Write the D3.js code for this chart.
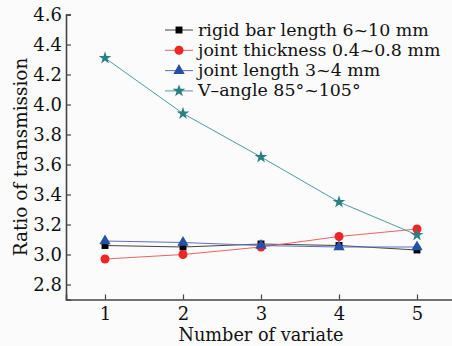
<!DOCTYPE html>
<html>
<head>
<meta charset="utf-8">
<script src="https://cdn.jsdelivr.net/npm/d3@7"></script>
<style>
  html, body { margin: 0; padding: 0; background: #fbfbfb; }
  svg { display: block; }
</style>
</head>
<body>
<svg id="chart" width="452" height="346"></svg>
<script>
// data
var variates = [1, 2, 3, 4, 5];
var rigidBar = [3.06, 3.05, 3.07, 3.06, 3.03];
var jointThickness = [2.97, 3.00, 3.05, 3.12, 3.17];
var jointLength = [3.09, 3.08, 3.06, 3.05, 3.05];
var vAngle = [4.31, 3.94, 3.65, 3.35, 3.13];
var seriesNames = ['rigid bar length 6~10 mm', 'joint thickness 0.4~0.8 mm', 'joint length 3~4 mm', 'V\u2013angle 85\u00b0~105\u00b0'];
var yTicks = [2.8, 3.0, 3.2, 3.4, 3.6, 3.8, 4.0, 4.2, 4.4, 4.6];
var xTicks = [1, 2, 3, 4, 5];

var FONT = '"DejaVu Serif", serif';

var series = [
	{name: seriesNames[0], values: rigidBar, line: '#444', fill: '#000', sym: d3.symbolSquare, size: 48},
	{name: seriesNames[1], values: jointThickness, line: '#f06060', fill: '#ee2626', sym: d3.symbolCircle, size: 64},
	{name: seriesNames[2], values: jointLength, line: '#5a70c0', fill: '#2450a8', sym: d3.symbolTriangle, size: 56},
	{name: seriesNames[3], values: vAngle, line: '#4f9c9c', fill: '#2a7f80', sym: d3.symbolStar, size: 50}
];

var svg = d3.select('#chart');
var margin = {left: 66};
var x = d3.scaleLinear().domain([0.5, 5.5]).range([margin.left, margin.left + 390]);
var y = d3.scaleLinear().domain([2.7, 4.6]).range([299.5, 14.5]);

// minor ticks, pointing inward like the original
var yMinor = d3.range(2.7, 4.61, 0.1).map(function(v){ return +v.toFixed(1); });
var xMinor = [1.5, 2.5, 3.5, 4.5];

var gx = svg.append('g').attr('transform', 'translate(0,' + y.range()[0] + ')');
gx.call(d3.axisBottom(x).tickValues(xMinor).tickSize(-3).tickFormat(''));
gx.call(d3.axisBottom(x).tickValues(xTicks).tickSize(-5).tickPadding(7.5).tickFormat(d3.format('d')));

var gy = svg.append('g').attr('transform', 'translate(' + margin.left + ',0)');
gy.call(d3.axisLeft(y).tickValues(yMinor).tickSize(-3).tickFormat(''));
gy.call(d3.axisLeft(y).tickValues(yTicks).tickSize(-5).tickPadding(4).tickFormat(d3.format('.1f')));

svg.selectAll('.domain').attr('stroke', '#444').attr('stroke-width', 1.6);
svg.selectAll('.tick line').attr('stroke', '#444').attr('stroke-width', 1.2);
svg.selectAll('.tick text')
	.style('font-family', FONT)
	.style('font-size', '18px')
	.attr('fill', '#111');

svg.append('text')
	.attr('x', x(3))
	.attr('y', 340.5)
	.attr('text-anchor', 'middle')
	.style('font-family', FONT)
	.style('font-size', '17.7px')
	.attr('fill', '#111')
	.text('Number of variate');

svg.append('text')
	.attr('transform', 'translate(27,' + ((y(2.7) + y(4.6)) / 2) + ') rotate(-90)')
	.attr('text-anchor', 'middle')
	.style('font-family', FONT)
	.style('font-size', '18.4px')
	.attr('fill', '#111')
	.text('Ratio of transmission');

var line = d3.line()
	.x(function(d, i){ return x(variates[i]); })
	.y(function(d){ return y(d); });

series.forEach(function(s){
	svg.append('path')
		.datum(s.values)
		.attr('d', line)
		.attr('fill', 'none')
		.attr('stroke', s.line)
		.attr('stroke-width', 1);
	svg.selectAll(null)
		.data(s.values)
		.enter().append('path')
		.attr('d', d3.symbol().type(s.sym).size(s.size))
		.attr('transform', function(d, i){ return 'translate(' + x(variates[i]) + ',' + y(d) + ')'; })
		.attr('fill', s.fill);
});

// legend
var legend = svg.append('g').attr('transform', 'translate(165,30)');
series.forEach(function(s, i){
	var g = legend.append('g').attr('transform', 'translate(0,' + (i * 20.3) + ')');
	g.append('line').attr('x1', 0).attr('x2', 28).attr('stroke', s.line).attr('stroke-width', 1);
	g.append('path').attr('d', d3.symbol().type(s.sym).size(s.size)).attr('transform', 'translate(14,0)').attr('fill', s.fill);
	g.append('text').attr('x', 33).attr('y', 5.5)
		.style('font-family', FONT)
		.style('font-size', '17.4px')
		.attr('fill', '#111')
		.text(s.name);
});
</script>
</body>
</html>
